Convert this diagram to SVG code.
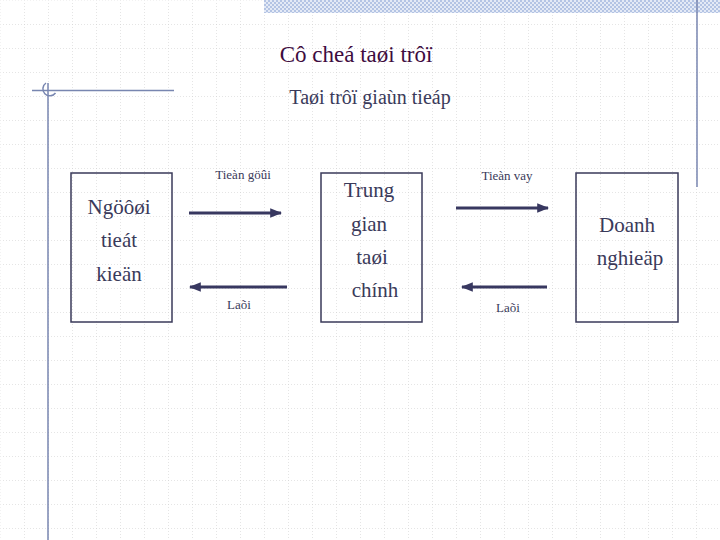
<svg xmlns="http://www.w3.org/2000/svg" width="720" height="540" viewBox="0 0 720 540">
<defs>
<pattern id="grid" width="24" height="24" patternUnits="userSpaceOnUse">
<path d="M0 0H24M0 0V24" fill="none" stroke="#cccccc" stroke-width="1" stroke-dasharray="1 2"/>
</pattern>
<pattern id="check" width="4" height="4" patternUnits="userSpaceOnUse">
<rect width="4" height="4" fill="#e4eaf6"/>
<rect width="2" height="2" fill="#b4c4e4"/>
<rect x="2" y="2" width="2" height="2" fill="#b4c4e4"/>
</pattern>
<marker id="ah" viewBox="0 0 10 10" refX="9" refY="5" markerWidth="4" markerHeight="4" orient="auto-start-reverse" markerUnits="strokeWidth">
<path d="M0 1L10 5L0 9z" fill="#383860"/>
</marker>
<style>
.box{fill:none;stroke:#3a3a5a;stroke-width:1.5}
.nt{font-family:"Liberation Serif",serif;font-size:21px;fill:#3a3a5a;text-anchor:middle}
.lb{font-family:"Liberation Serif",serif;font-size:13px;fill:#3a3a5a;text-anchor:middle}
.ar{stroke:#383860;stroke-width:3;fill:none}
.deco{stroke:#7886b0;stroke-width:1.5;fill:none}
</style>
</defs>
<rect width="720" height="540" fill="#ffffff"/>
<rect x="0.5" y="0.5" width="720" height="540" fill="url(#grid)"/>
<rect x="264" y="0" width="456" height="13" fill="url(#check)"/>
<line class="deco" x1="697" y1="0" x2="697" y2="187"/>
<line class="deco" x1="32" y1="90.5" x2="174" y2="90.5"/>
<line class="deco" x1="48" y1="83" x2="48" y2="540"/>
<path class="deco" d="M46 83A7 7 0 1 0 55.5 93"/>
<text x="356" y="62" font-family="'Liberation Serif',serif" font-size="23" fill="#3e0c40" text-anchor="middle">Cô cheá taøi trôï</text>
<text x="370" y="104" font-family="'Liberation Serif',serif" font-size="20" fill="#3a3a5a" text-anchor="middle">Taøi trôï giaùn tieáp</text>
<g id="nguoi-tiet-kiem">
<rect class="box" x="71" y="173" width="101" height="149"/>
<text class="nt" x="119" y="214">Ngöôøi</text>
<text class="nt" x="119" y="247">tieát</text>
<text class="nt" x="119" y="281">kieän</text>
</g>
<g id="trung-gian">
<rect class="box" x="321" y="173" width="101" height="149"/>
<text class="nt" x="369" y="197">Trung</text>
<text class="nt" x="369" y="231">gian</text>
<text class="nt" x="372" y="264">taøi</text>
<text class="nt" x="375" y="297">chính</text>
</g>
<g id="doanh-nghiep">
<rect class="box" x="576" y="173" width="102" height="149"/>
<text class="nt" x="627" y="232">Doanh</text>
<text class="nt" x="630" y="265">nghieäp</text>
</g>
<g id="connectors">
<line class="ar" x1="189" y1="213" x2="281" y2="213" marker-end="url(#ah)"/>
<line class="ar" x1="287" y1="287" x2="190" y2="287" marker-end="url(#ah)"/>
<line class="ar" x1="456" y1="208" x2="548" y2="208" marker-end="url(#ah)"/>
<line class="ar" x1="547" y1="287" x2="462" y2="287" marker-end="url(#ah)"/>
<text class="lb" x="243" y="179">Tieàn göûi</text>
<text class="lb" x="239" y="309">Laõi</text>
<text class="lb" x="507" y="180">Tieàn vay</text>
<text class="lb" x="508" y="312">Laõi</text>
</g>
</svg>
